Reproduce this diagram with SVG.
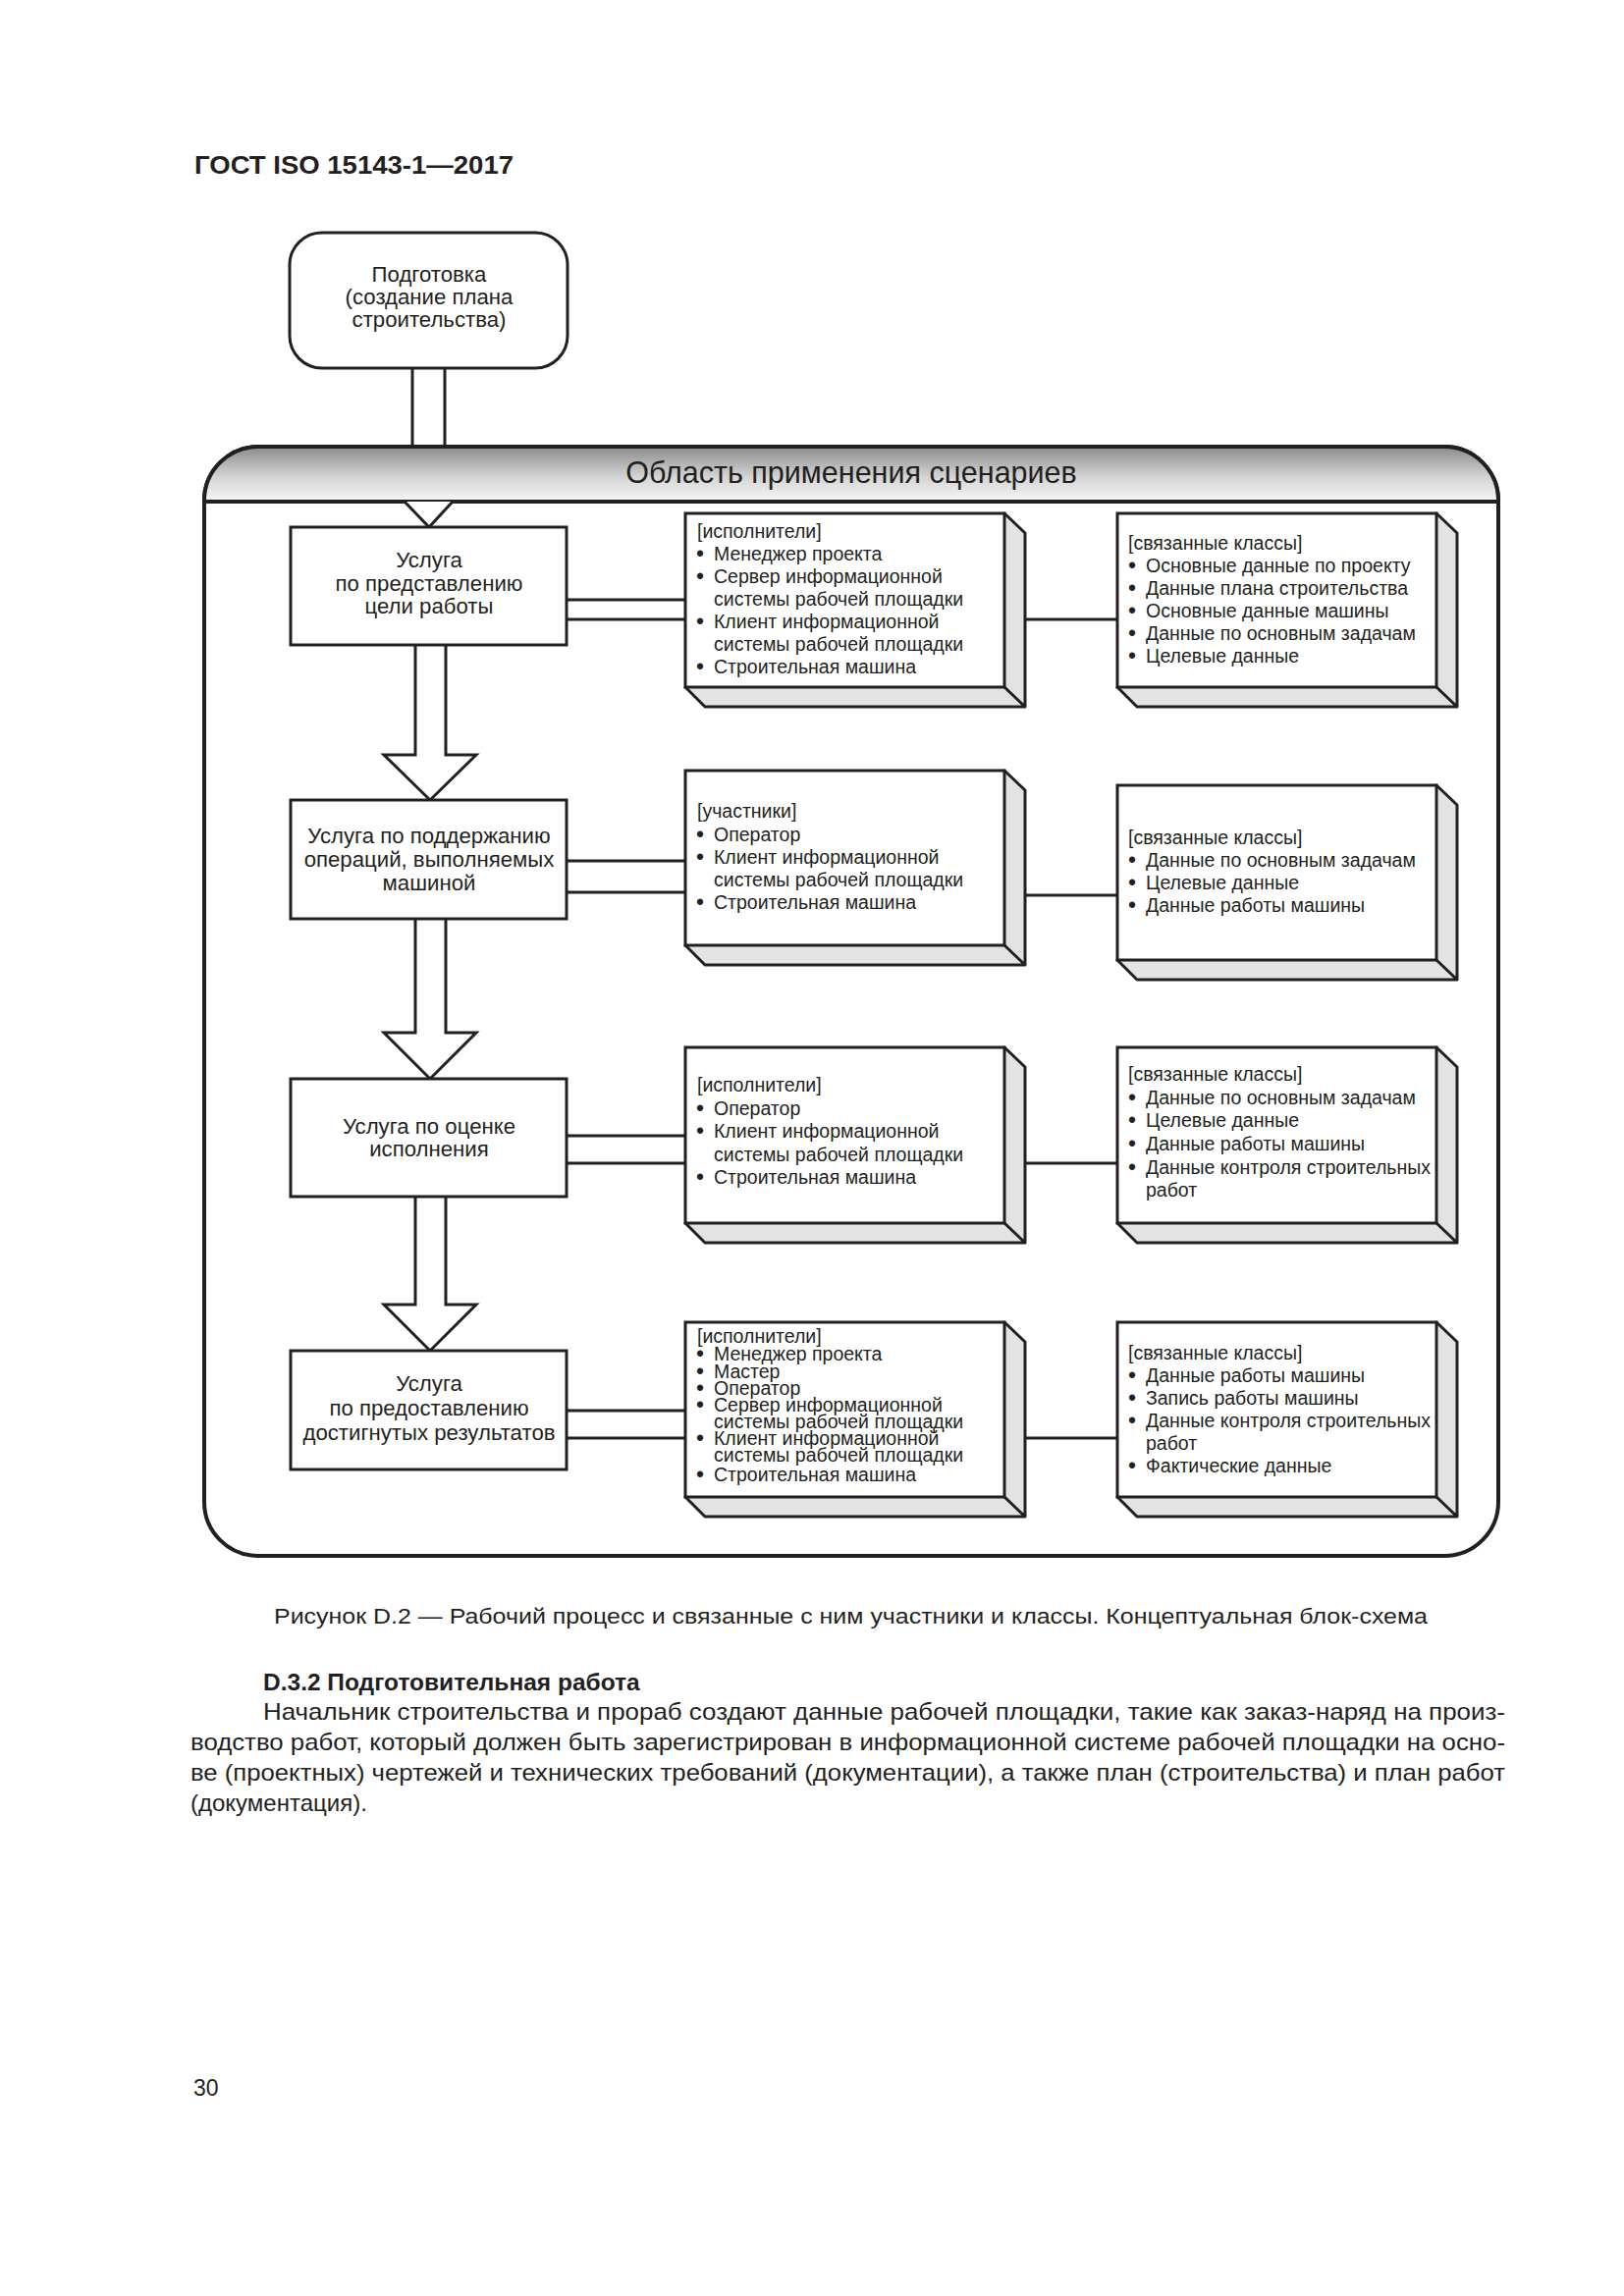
<svg xmlns="http://www.w3.org/2000/svg" width="1654" height="2339" viewBox="0 0 1654 2339">
<defs>
<style>
.t{font-family:"Liberation Sans",Arial,sans-serif;fill:#231f20}
.b{font-weight:bold}
.svc{font-size:22.2px;text-anchor:middle}
.bx{font-size:19.5px}
.bu{font-size:23px}
.box{fill:#fff;stroke:#231f20;stroke-width:3}
.side{fill:#e3e3e3;stroke:#231f20;stroke-width:3;stroke-linejoin:round}
.ln{stroke:#231f20;stroke-width:3;fill:none}
.arr{fill:#fff;stroke:#231f20;stroke-width:3;stroke-linejoin:miter}
</style>
<linearGradient id="hg" x1="0" y1="0" x2="0" y2="1">
<stop offset="0" stop-color="#8a8a8a"/>
<stop offset="0.55" stop-color="#d4d4d4"/>
<stop offset="1" stop-color="#f7f7f7"/>
</linearGradient>
</defs>
<rect width="1654" height="2339" fill="#fff"/>
<text class="t b" x="198" y="177" font-size="26.5" textLength="325" lengthAdjust="spacingAndGlyphs">ГОСТ ISO 15143-1—2017</text>

<g id="frame">
<rect x="208" y="455" width="1318" height="1130" rx="55" ry="55" fill="#fff" stroke="#231f20" stroke-width="4"/>
<path d="M208,511 L208,510 A55,55 0 0 1 263,455 L1471,455 A55,55 0 0 1 1526,510 L1526,511 Z" fill="url(#hg)" stroke="#231f20" stroke-width="4"/>
<text class="t" x="867" y="492" font-size="30.5" text-anchor="middle">Область применения сценариев</text>
</g>

<g id="connectors">
<path class="ln" d="M420,375 L420,455 M453,375 L453,455"/>
<path class="arr" d="M412,511 L437,537 L461,511"/>
<path class="arr" d="M423,657 L423,769 L391,769 L438,815 L485,769 L454,769 L454,657"/>
<path class="arr" d="M423,936 L423,1052 L391,1052 L438,1099 L485,1052 L454,1052 L454,936"/>
<path class="arr" d="M423,1219 L423,1329 L391,1329 L438,1376 L485,1329 L454,1329 L454,1219"/>
<path class="ln" d="M577,611 L698,611 M577,631 L698,631"/>
<path class="ln" d="M577,877 L698,877 M577,909 L698,909"/>
<path class="ln" d="M577,1157 L698,1157 M577,1185 L698,1185"/>
<path class="ln" d="M577,1437 L698,1437 M577,1465 L698,1465"/>
<path class="ln" d="M1044,631 L1138,631"/>
<path class="ln" d="M1044,912 L1138,912"/>
<path class="ln" d="M1044,1185 L1138,1185"/>
<path class="ln" d="M1044,1465 L1138,1465"/>
</g>

<g id="prep">
<rect class="box" x="295" y="237" width="283" height="138" rx="33" ry="33"/>
<text class="t svc" x="437" y="287">Подготовка</text>
<text class="t svc" x="437" y="310">(создание плана</text>
<text class="t svc" x="437" y="333">строительства)</text>
</g>

<g id="svc1">
<rect class="box" x="296" y="537" width="281" height="120"/>
<text class="t svc" x="437" y="578">Услуга</text>
<text class="t svc" x="437" y="602">по представлению</text>
<text class="t svc" x="437" y="625">цели работы</text>
</g>
<g id="svc2">
<rect class="box" x="296" y="815" width="281" height="121"/>
<text class="t svc" x="437" y="859">Услуга по поддержанию</text>
<text class="t svc" x="437" y="883">операций, выполняемых</text>
<text class="t svc" x="437" y="907">машиной</text>
</g>
<g id="svc3">
<rect class="box" x="296" y="1099" width="281" height="120"/>
<text class="t svc" x="437" y="1155">Услуга по оценке</text>
<text class="t svc" x="437" y="1178">исполнения</text>
</g>
<g id="svc4">
<rect class="box" x="296" y="1376" width="281" height="121"/>
<text class="t svc" x="437" y="1417">Услуга</text>
<text class="t svc" x="437" y="1442">по предоставлению</text>
<text class="t svc" x="437" y="1467">достигнутых результатов</text>
</g>

<g id="act1">
<path class="side" d="M1023,523 L1044,543 L1044,720 L718,720 L698,700 Z M1023,700 L1044,720"/>
<rect class="box" x="698" y="523" width="325" height="177"/>
<g class="t bx">
<text x="710" y="548">[исполнители]</text>
<text class="bu" x="709" y="572">•</text><text x="727" y="571">Менеджер проекта</text>
<text class="bu" x="709" y="595">•</text><text x="727" y="594">Сервер информационной</text>
<text x="727" y="617">системы рабочей площадки</text>
<text class="bu" x="709" y="641">•</text><text x="727" y="640">Клиент информационной</text>
<text x="727" y="663">системы рабочей площадки</text>
<text class="bu" x="709" y="687">•</text><text x="727" y="686">Строительная машина</text>
</g>
</g>
<g id="cls1">
<path class="side" d="M1463,523 L1484,543 L1484,720 L1158,720 L1138,700 Z M1463,700 L1484,720"/>
<rect class="box" x="1138" y="523" width="325" height="177"/>
<g class="t bx">
<text x="1149" y="560">[связанные классы]</text>
<text class="bu" x="1149" y="584">•</text><text x="1167" y="583">Основные данные по проекту</text>
<text class="bu" x="1149" y="607">•</text><text x="1167" y="606">Данные плана строительства</text>
<text class="bu" x="1149" y="630">•</text><text x="1167" y="629">Основные данные машины</text>
<text class="bu" x="1149" y="653">•</text><text x="1167" y="652">Данные по основным задачам</text>
<text class="bu" x="1149" y="676">•</text><text x="1167" y="675">Целевые данные</text>
</g>
</g>

<g id="act2">
<path class="side" d="M1023,785 L1044,805 L1044,983 L718,983 L698,963 Z M1023,963 L1044,983"/>
<rect class="box" x="698" y="785" width="325" height="178"/>
<g class="t bx">
<text x="710" y="833">[участники]</text>
<text class="bu" x="709" y="858">•</text><text x="727" y="857">Оператор</text>
<text class="bu" x="709" y="881">•</text><text x="727" y="880">Клиент информационной</text>
<text x="727" y="903">системы рабочей площадки</text>
<text class="bu" x="709" y="927">•</text><text x="727" y="926">Строительная машина</text>
</g>
</g>
<g id="cls2">
<path class="side" d="M1463,800 L1484,820 L1484,998 L1158,998 L1138,978 Z M1463,978 L1484,998"/>
<rect class="box" x="1138" y="800" width="325" height="178"/>
<g class="t bx">
<text x="1149" y="860">[связанные классы]</text>
<text class="bu" x="1149" y="884">•</text><text x="1167" y="883">Данные по основным задачам</text>
<text class="bu" x="1149" y="907">•</text><text x="1167" y="906">Целевые данные</text>
<text class="bu" x="1149" y="930">•</text><text x="1167" y="929">Данные работы машины</text>
</g>
</g>

<g id="act3">
<path class="side" d="M1023,1067 L1044,1087 L1044,1266 L718,1266 L698,1246 Z M1023,1246 L1044,1266"/>
<rect class="box" x="698" y="1067" width="325" height="179"/>
<g class="t bx">
<text x="710" y="1112">[исполнители]</text>
<text class="bu" x="709" y="1137">•</text><text x="727" y="1136">Оператор</text>
<text class="bu" x="709" y="1160">•</text><text x="727" y="1159">Клиент информационной</text>
<text x="727" y="1183">системы рабочей площадки</text>
<text class="bu" x="709" y="1207">•</text><text x="727" y="1206">Строительная машина</text>
</g>
</g>
<g id="cls3">
<path class="side" d="M1463,1067 L1484,1087 L1484,1266 L1158,1266 L1138,1246 Z M1463,1246 L1484,1266"/>
<rect class="box" x="1138" y="1067" width="325" height="179"/>
<g class="t bx">
<text x="1149" y="1101">[связанные классы]</text>
<text class="bu" x="1149" y="1126">•</text><text x="1167" y="1125">Данные по основным задачам</text>
<text class="bu" x="1149" y="1149">•</text><text x="1167" y="1148">Целевые данные</text>
<text class="bu" x="1149" y="1173">•</text><text x="1167" y="1172">Данные работы машины</text>
<text class="bu" x="1149" y="1197">•</text><text x="1167" y="1196">Данные контроля строительных</text>
<text x="1167" y="1219">работ</text>
</g>
</g>

<g id="act4">
<path class="side" d="M1023,1347 L1044,1367 L1044,1545 L718,1545 L698,1525 Z M1023,1525 L1044,1545"/>
<rect class="box" x="698" y="1347" width="325" height="178"/>
<g class="t bx">
<text x="710" y="1368">[исполнители]</text>
<text class="bu" x="709" y="1387">•</text><text x="727" y="1386">Менеджер проекта</text>
<text class="bu" x="709" y="1405">•</text><text x="727" y="1404">Мастер</text>
<text class="bu" x="709" y="1422">•</text><text x="727" y="1421">Оператор</text>
<text class="bu" x="709" y="1439">•</text><text x="727" y="1438">Сервер информационной</text>
<text x="727" y="1455">системы рабочей площадки</text>
<text class="bu" x="709" y="1473">•</text><text x="727" y="1472">Клиент информационной</text>
<text x="727" y="1489">системы рабочей площадки</text>
<text class="bu" x="709" y="1510">•</text><text x="727" y="1509">Строительная машина</text>
</g>
</g>
<g id="cls4">
<path class="side" d="M1463,1347 L1484,1367 L1484,1545 L1158,1545 L1138,1525 Z M1463,1525 L1484,1545"/>
<rect class="box" x="1138" y="1347" width="325" height="178"/>
<g class="t bx">
<text x="1149" y="1385">[связанные классы]</text>
<text class="bu" x="1149" y="1409">•</text><text x="1167" y="1408">Данные работы машины</text>
<text class="bu" x="1149" y="1432">•</text><text x="1167" y="1431">Запись работы машины</text>
<text class="bu" x="1149" y="1455">•</text><text x="1167" y="1454">Данные контроля строительных</text>
<text x="1167" y="1477">работ</text>
<text class="bu" x="1149" y="1501">•</text><text x="1167" y="1500">Фактические данные</text>
</g>
</g>

<text class="t" x="279" y="1654" font-size="22" textLength="1175" lengthAdjust="spacingAndGlyphs">Рисунок D.2 — Рабочий процесс и связанные с ним участники и классы. Концептуальная блок-схема</text>

<text class="t b" x="268" y="1722" font-size="24.5">D.3.2 Подготовительная работа</text>
<text class="t" x="268" y="1752" font-size="24" textLength="1265" lengthAdjust="spacingAndGlyphs">Начальник строительства и прораб создают данные рабочей площадки, такие как заказ-наряд на произ-</text>
<text class="t" x="194" y="1783" font-size="24" textLength="1339" lengthAdjust="spacingAndGlyphs">водство работ, который должен быть зарегистрирован в информационной системе рабочей площадки на осно-</text>
<text class="t" x="194" y="1814" font-size="24" textLength="1339" lengthAdjust="spacingAndGlyphs">ве (проектных) чертежей и технических требований (документации), а также план (строительства) и план работ</text>
<text class="t" x="194" y="1845" font-size="24">(документация).</text>

<text class="t" x="197" y="2135" font-size="23">30</text>
</svg>
